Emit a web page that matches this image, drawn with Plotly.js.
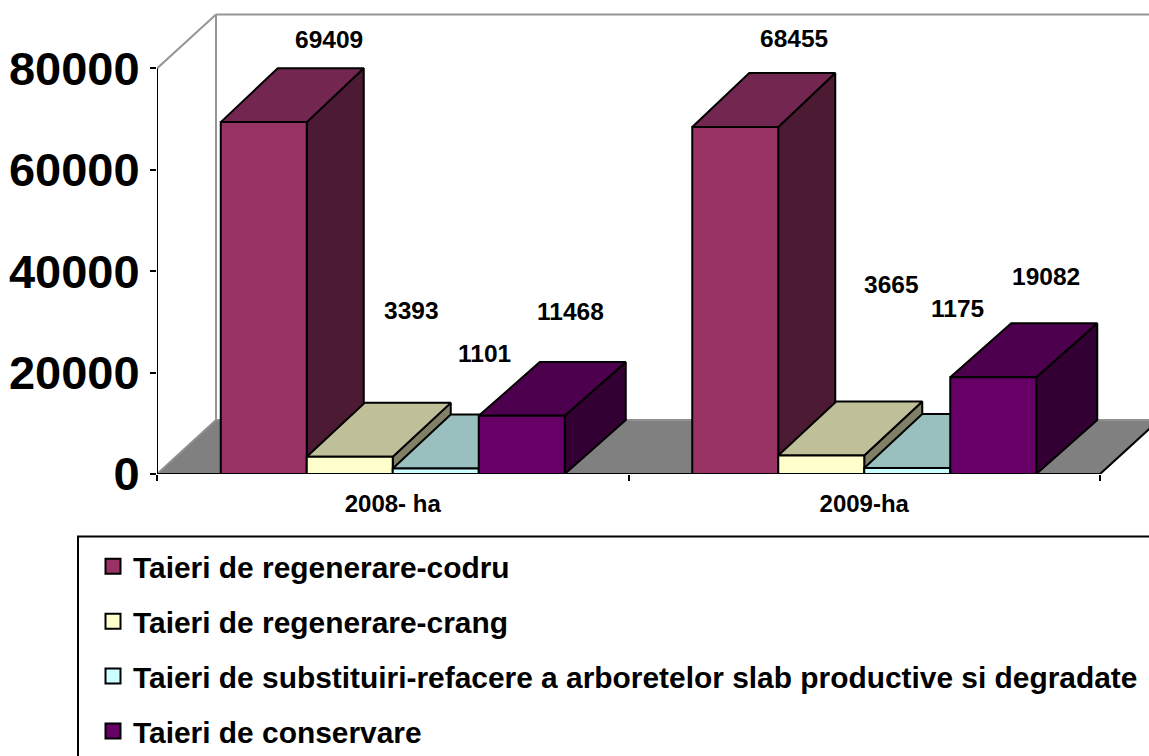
<!DOCTYPE html>
<html><head><meta charset="utf-8">
<script src="https://cdn.plot.ly/plotly-3.0.1.min.js"></script>
<style>html,body{margin:0;padding:0;background:#fff;overflow:hidden}</style>
</head><body><div id="chart" style="width:1149px;height:756px"></div>
<script>
const categories = ["2008- ha", "2009-ha"];
const seriesNames = ["Taieri de regenerare-codru", "Taieri de regenerare-crang",
  "Taieri de substituiri-refacere a arboretelor slab productive si degradate", "Taieri de conservare"];
const codru = [69409, 68455];
const crang = [3393, 3665];
const substituiri = [1101, 1175];
const conservare = [11468, 19082];
const yTicks = [0, 20000, 40000, 60000, 80000];
const frontColors = ["#993366", "#FFFFCC", "#CCFFFF", "#660066"];
const topColors = ["#732650", "#BFBF99", "#99BFBF", "#4D004D"];
const sideColors = ["#4D1A33", "#808066", "#668080", "#330033"];
// label offsets from each bar's front-top centre, in pixels, per series then category
const labelShiftX = [[65, 59], [62, 70], [49, 50], [49, 53]];
const labelShiftY = [[83, 88], [146, 171], [115, 160], [104, 101]];
// receding depth of each series' bars, in pixels
const depthPx = [57, 58, 58, 61];

const allSeries = [codru, crang, substituiri, conservare];
const FONT = '"Liberation Sans", Arial, sans-serif';
const barW = 86 / 471.5, depthY = 54 * 80000 / 406;
const wallX = 59 / 471.5, wallY = depthY;
const xL = -0.5, xR = 1.5, xMax = 1.5 + 49 / 471.5, yMax = 474.5 * 80000 / 406;

const traces = [];
// floor and back walls
traces.push({x:[xL, xL+wallX, xR+wallX, xR, xL], y:[0, wallY, wallY, 0, 0], mode:"lines", fill:"toself",
  fillcolor:"#808080", line:{color:"#909090", width:2}, hoverinfo:"skip", showlegend:false, xaxis:"x", yaxis:"y"});
traces.push({x:[xR, xR+wallX], y:[0, wallY], mode:"lines", line:{color:"#000", width:2}, hoverinfo:"skip", showlegend:false, xaxis:"x", yaxis:"y"});
traces.push({x:[xL, xL+wallX, xL+wallX, null, xL+wallX, xMax], y:[80000, 80000+wallY, wallY, null, 80000+wallY, 80000+wallY],
  mode:"lines", line:{color:"#969696", width:2}, hoverinfo:"skip", showlegend:false, xaxis:"x", yaxis:"y"});

// depth faces, left to right
categories.forEach((c, ci) => {
  allSeries.forEach((vals, si) => {
    const v = vals[ci], depthX = depthPx[si] / 471.5;
    const l = ci + (si - 2) * barW, r = l + barW;
    traces.push({x:[r, r+depthX, r+depthX, r, r], y:[0, depthY, v+depthY, v, 0], mode:"lines", fill:"toself",
      fillcolor:sideColors[si], line:{color:"#000", width:2}, hoverinfo:"skip", showlegend:false, xaxis:"x", yaxis:"y"});
    traces.push({x:[l, l+depthX, r+depthX, r, l], y:[v, v+depthY, v+depthY, v, v], mode:"lines", fill:"toself",
      fillcolor:topColors[si], line:{color:"#000", width:2}, hoverinfo:"skip", showlegend:false, xaxis:"x", yaxis:"y"});
  });
});
// front faces
allSeries.forEach((vals, si) => {
  traces.push({type:"bar", x:categories, y:vals, name:seriesNames[si], showlegend:false, hoverinfo:"skip",
    marker:{color:frontColors[si], line:{color:"#000", width:2}}, xaxis:"x2", yaxis:"y2"});
});
// axis lines
traces.push({x:[xL, xL, xR], y:[80000, 0, 0], mode:"lines", line:{color:"#000", width:2}, cliponaxis:false,
  hoverinfo:"skip", showlegend:false, xaxis:"x3", yaxis:"y2"});
// legend entries
seriesNames.forEach((n, si) => {
  traces.push({x:[null], y:[null], mode:"markers", name:n, legendgroup:"g"+si,
    marker:{symbol:"square", size:15, color:frontColors[si], line:{color:"#000", width:2}}, xaxis:"x", yaxis:"y"});
});

const annotations = [];
allSeries.forEach((vals, si) => vals.forEach((v, ci) => {
  annotations.push({xref:"x", yref:"y", x:ci + (si - 1.5) * barW, y:v, text:String(v), showarrow:false,
    xanchor:"center", yanchor:"middle", xshift:labelShiftX[si][ci], yshift:labelShiftY[si][ci],
    font:{family:FONT, size:24.5, color:"#000", weight:700}});
}));

const layout = {
  width:1149, height:756, autosize:false, showlegend:true,
  margin:{l:157, r:0, t:0, b:281.5, pad:0, autoexpand:false},
  paper_bgcolor:"#fff", plot_bgcolor:"rgba(0,0,0,0)", font:{family:FONT, color:"#000"},
  barmode:"group", bargap:1 - 4 * barW, bargroupgap:0,
  xaxis:{range:[xL, xMax], visible:false, fixedrange:true},
  yaxis:{range:[0, yMax], tickvals:yTicks, ticktext:yTicks.map(String), ticks:"outside", ticklen:6, tickwidth:2, tickcolor:"#000",
    showgrid:false, zeroline:false, showline:false, tickfont:{family:FONT, size:47, color:"#000", weight:700}, ticklabelstandoff:1, fixedrange:true},
  xaxis2:{overlaying:"x", type:"category", range:[xL, xMax], anchor:"y2", tickson:"boundaries", ticks:"outside", ticklen:6, tickwidth:2, tickcolor:"#000",
    showgrid:false, zeroline:false, showline:false, tickfont:{family:FONT, size:24, color:"#000", weight:700}, ticklabelstandoff:13, fixedrange:true},
  xaxis3:{overlaying:"x", range:[xL, xMax], visible:false, fixedrange:true},
  yaxis2:{overlaying:"y", range:[0, yMax], visible:false, fixedrange:true},
  legend:{x:(93-157)/992, y:(474.5-541)/474.5, xanchor:"left", yanchor:"top", orientation:"v", traceorder:"grouped",
    font:{family:FONT, size:29.9, color:"#000", weight:700}, tracegroupgap:13, bgcolor:"rgba(0,0,0,0)", borderwidth:0},
  shapes:[{type:"rect", xref:"paper", yref:"paper", x0:(78-157)/992, x1:1.1, y0:(474.5-537)/474.5, y1:(474.5-800)/474.5, line:{color:"#000", width:2}, fillcolor:"rgba(0,0,0,0)"}],
  annotations
};
Plotly.newPlot("chart", traces, layout, {displayModeBar:false, staticPlot:true});
</script></body></html>
